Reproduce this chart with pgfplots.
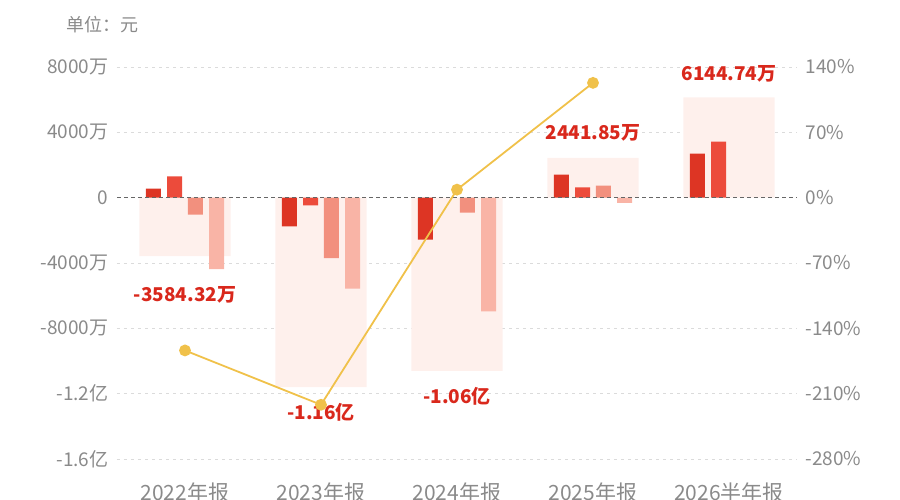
\documentclass[border=0pt]{standalone}
\usepackage{fontspec}
\setmainfont{Noto Sans CJK SC}
\usepackage{pgfplots}
\usepackage{pgfplotstable}
\pgfplotsset{compat=1.18}

\definecolor{bgpink}{HTML}{FEF0EC}
\definecolor{c1}{HTML}{DD3524}
\definecolor{c2}{HTML}{EC4B3B}
\definecolor{c3}{HTML}{F2907E}
\definecolor{c4}{HTML}{F9B4A6}
\definecolor{lineyel}{HTML}{F0C14A}
\definecolor{txtgray}{HTML}{8A8A8A}
\definecolor{labred}{HTML}{D9281C}

\tikzset{lab/.style={text=labred, font=\fontsize{19}{19}\selectfont\bfseries}}

% values in 万元
\pgfplotstableread{
x total b1 b2 b3 b4
0 -3584.32 550 1300 -1040 -4370
1 -11600 -1757 -470 -3695 -5574
2 -10600 -2572 nan -920 -6960
3 2441.85 1410 630 735 -325
4 6144.74 2695 3430 nan nan
}\datatable

% growth rate, %
\pgfplotstableread{
x g
0 -163.7
1 -221.9
2 8.6
3 123.0
}\growth

\begin{document}
\begin{tikzpicture}
\useasboundingbox (0,0) rectangle (900pt,500pt);
\node[anchor=base west, text=txtgray, font=\fontsize{18}{18}\selectfont] at (63pt,468pt) {单位：元};

\begin{axis}[
    scale only axis,
    width=680pt, height=392pt,
    at={(117pt,41pt)}, anchor=south west,
    xmin=-0.5, xmax=4.5,
    ymin=-16000, ymax=8000,
    scaled y ticks=false,
    axis line style={draw=none},
    major tick length=0,
    xtick={0,1,2,3,4},
    xticklabels={2022年报,2023年报,2024年报,2025年报,2026半年报},
    xticklabel style={font=\fontsize{21}{21}\selectfont, text=txtgray, anchor=base, yshift=-42pt},
    ytick={-16000,-12000,-8000,-4000,0,4000,8000},
    yticklabels={-1.6亿,-1.2亿,-8000万,-4000万,0,4000万,8000万},
    yticklabel style={font=\fontsize{19}{19}\selectfont, text=txtgray, xshift=-5pt},
    ymajorgrids=true,
    grid style={draw=black!14, line width=0.8pt, dash pattern=on 3pt off 4pt},
    clip=false,
]
\addplot[ybar, bar width=0.67, bar shift=0, fill=bgpink, draw=none] table[x=x, y=total] {\datatable};
\addplot[ybar, bar width=0.11, bar shift=-0.232, fill=c1, draw=none] table[x=x, y=b1] {\datatable};
\addplot[ybar, bar width=0.11, bar shift=-0.077, fill=c2, draw=none] table[x=x, y=b2] {\datatable};
\addplot[ybar, bar width=0.11, bar shift=0.077, fill=c3, draw=none] table[x=x, y=b3] {\datatable};
\addplot[ybar, bar width=0.11, bar shift=0.232, fill=c4, draw=none] table[x=x, y=b4] {\datatable};

\node[lab] at (axis cs:0,-5941) {-3584.32万};
\node[lab] at (axis cs:1,-13169) {-1.16亿};
\node[lab] at (axis cs:2,-12189) {-1.06亿};
\node[lab] at (axis cs:3,3981) {2441.85万};
\node[lab] at (axis cs:4,7595) {6144.74万};
\end{axis}

\begin{axis}[
    scale only axis,
    width=680pt, height=392pt,
    at={(117pt,41pt)}, anchor=south west,
    xmin=-0.5, xmax=4.5,
    ymin=-280, ymax=140,
    axis line style={draw=none},
    major tick length=0,
    xtick=\empty,
    yticklabel pos=right,
    ytick={-280,-210,-140,-70,70,140},
    yticklabels={-280\%,-210\%,-140\%,-70\%,70\%,140\%},
    extra y ticks={0},
    extra y tick labels={0\%},
    extra y tick style={grid=major, grid style={draw=black!60, line width=1pt, dash pattern=on 4pt off 3pt}},
    yticklabel style={font=\fontsize{19}{19}\selectfont, text=txtgray, anchor=west, xshift=5pt},
    clip=false,
]
\addplot[draw=lineyel, line width=1.8pt, mark=*, mark size=5pt, mark options={fill=lineyel, draw=none}] table[x=x, y=g] {\growth};
\end{axis}
\end{tikzpicture}
\end{document}
